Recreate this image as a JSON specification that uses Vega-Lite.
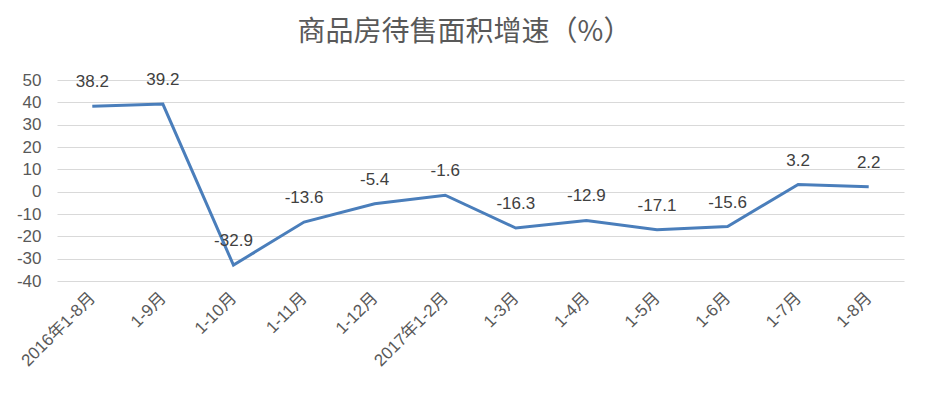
{
  "$schema": "https://vega.github.io/schema/vega-lite/v6.json",
  "autosize": {"type": "none"},
  "padding": {"left": 57, "top": 80, "right": 25, "bottom": 115},
  "width": 847,
  "height": 201,
  "background": "white",
  "title": {
    "text": "商品房待售面积增速（%）",
    "font": "Noto Sans CJK SC",
    "fontSize": 28,
    "fontWeight": "normal",
    "color": "#595959",
    "anchor": "middle",
    "dx": -16,
    "offset": 24
  },
  "data": {
    "values": [
      {"period": "2016年1-8月", "value": 38.2},
      {"period": "1-9月", "value": 39.2},
      {"period": "1-10月", "value": -32.9},
      {"period": "1-11月", "value": -13.6},
      {"period": "1-12月", "value": -5.4},
      {"period": "2017年1-2月", "value": -1.6},
      {"period": "1-3月", "value": -16.3},
      {"period": "1-4月", "value": -12.9},
      {"period": "1-5月", "value": -17.1},
      {"period": "1-6月", "value": -15.6},
      {"period": "1-7月", "value": 3.2},
      {"period": "1-8月", "value": 2.2}
    ]
  },
  "config": {
    "view": {"stroke": null},
    "font": "Noto Sans CJK SC",
    "locale": {
      "number": {"decimal": ".", "thousands": ",", "grouping": [3], "currency": ["$", ""], "minus": "-"}
    }
  },
  "encoding": {
    "x": {
      "field": "period",
      "type": "nominal",
      "sort": null,
      "scale": {"paddingInner": 0, "paddingOuter": 0.5, "type": "point"},
      "axis": {
        "title": null,
        "labelAngle": -45,
        "labelAlign": "right",
        "labelBaseline": "middle",
        "labelFontSize": 17,
        "labelColor": "#595959",
        "labelFont": "Liberation Sans, Noto Sans CJK SC",
        "labelPadding": 14,
        "ticks": false,
        "domain": false,
        "grid": false
      }
    },
    "y": {
      "field": "value",
      "type": "quantitative",
      "scale": {"domain": [-40, 50], "nice": false, "zero": false},
      "axis": {
        "title": null,
        "values": [-40, -30, -20, -10, 0, 10, 20, 30, 40, 50],
        "labelFontSize": 17,
        "labelColor": "#595959",
        "labelFont": "Liberation Sans",
        "labelPadding": 16,
        "ticks": false,
        "domain": false,
        "grid": true,
        "gridColor": "#d9d9d9",
        "gridWidth": 1
      }
    }
  },
  "layer": [
    {
      "mark": {"type": "line", "color": "#4a7ebb", "strokeWidth": 3, "strokeJoin": "miter"}
    },
    {
      "mark": {"type": "text", "dy": -24, "fontSize": 17, "color": "#404040", "font": "Liberation Sans", "baseline": "middle"},
      "encoding": {"text": {"field": "value", "type": "quantitative", "format": ".1f"}}
    }
  ]
}
